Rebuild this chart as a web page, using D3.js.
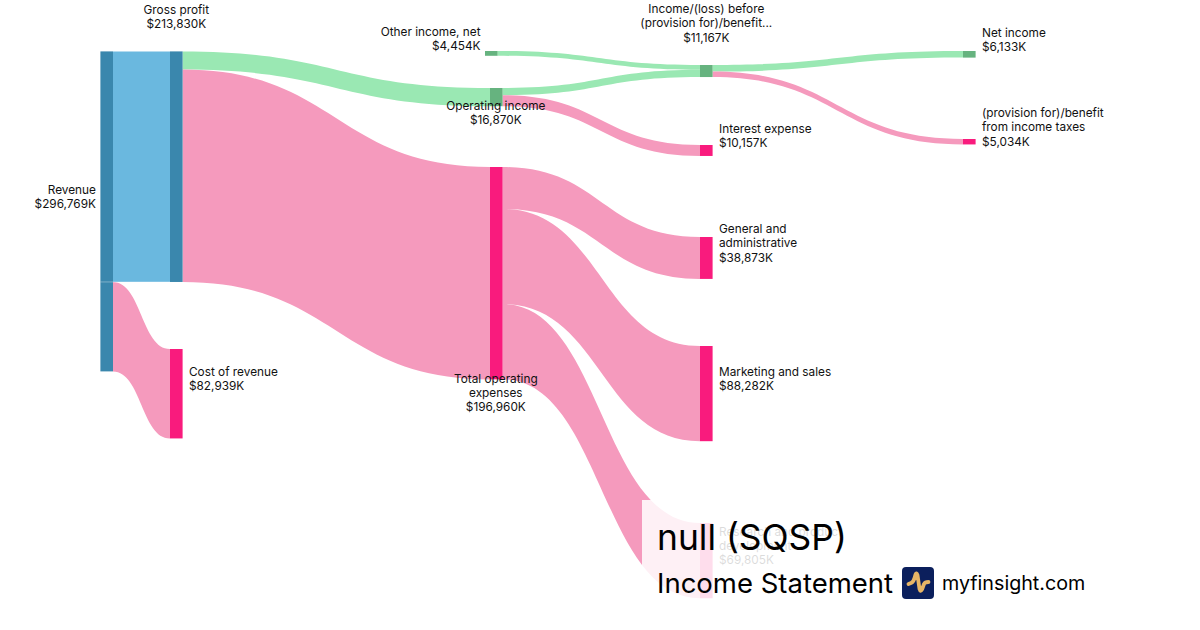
<!DOCTYPE html>
<html>
<head>
<meta charset="utf-8">
<script src="https://cdn.jsdelivr.net/npm/d3@7"></script>
<style>
  html, body { margin: 0; padding: 0; background: #fff; }
  text { font-family: Inter, sans-serif; fill: #111; }
</style>
</head>
<body>
<div id="chart"></div>
<script>
// values in $K
const nodeNames = ['Revenue', 'Gross profit', 'Cost of revenue', 'Other income, net', 'Operating income',
  'Total operating expenses', 'Income before', 'Interest expense', 'General and administrative',
  'Marketing and sales', 'Research and development', 'Net income', 'Provision'];
const nodeValues = [296769, 213830, 82939, 4454, 16870, 196960, 11167, 10157, 38873, 88282, 69805, 6133, 5034];
const nodeKinds = ['rev', 'rev', 'cost', 'gain', 'gain', 'cost', 'gain', 'cost', 'cost', 'cost', 'cost', 'gain', 'cost'];
const nodeLabels = [
  ['Revenue'], ['Gross profit'], ['Cost of revenue'], ['Other income, net'], ['Operating income'],
  ['Total operating', 'expenses'], ['Income/(loss) before', '(provision for)/benefit...'], ['Interest expense'],
  ['General and', 'administrative'], ['Marketing and sales'], ['Research and product', 'development'],
  ['Net income'], ['(provision for)/benefit', 'from income taxes']
];

const linkSources = [0, 0, 1, 1, 3, 4, 4, 5, 5, 5, 6, 6];
const linkTargets = [1, 2, 4, 5, 6, 6, 7, 8, 9, 10, 11, 12];
const linkValues = [213830, 82939, 16870, 196960, 4454, 6713, 10157, 38873, 88282, 69805, 6133, 5034];

// layout of the nodes, in page pixels
const nodeLeft = [100.4, 170, 170, 485, 490, 490, 700, 700, 700, 700, 700, 963, 963];
const nodeTop = [51.4, 51.4, 349, 51, 88, 167, 65, 145, 237, 346, 523, 51, 139];
const labelSide = ['left', 'top', 'right', 'left', 'bottom', 'bottom', 'top', 'right', 'right', 'right', 'right', 'right', 'right'];

const width = 1200, height = 630, nodeWidth = 12.6;
const colors = {
  rev: { node: '#3a87ad', link: '#6ab8df' },
  cost: { node: '#f91b7d', link: '#f59abd' },
  gain: { node: '#66b37f', link: '#9ae8b3' }
};

const fmt = d => '$' + d3.format(',')(d) + 'K';
const size = d3.scaleLinear().domain([0, 296769]).range([0, 320]);

const svg = d3.select('#chart').append('svg')
  .attr('width', width)
  .attr('height', height);

const nodes = nodeNames.map((name, i) => ({
  name, value: nodeValues[i], kind: nodeKinds[i], label: nodeLabels[i], side: labelSide[i],
  x: nodeLeft[i], y: nodeTop[i], h: size(nodeValues[i]), outY: nodeTop[i], inY: nodeTop[i]
}));

const links = linkValues.map((value, i) => {
  const s = nodes[linkSources[i]], t = nodes[linkTargets[i]], w = size(value);
  const l = { s, t, w, y0: s.outY, y1: t.inY };
  s.outY += w;
  t.inY += w;
  return l;
});

// ribbon with vertical ends, same bezier on top and bottom edge
function ribbon(l) {
  const x0 = l.s.x + nodeWidth, x1 = l.t.x, mx = (x0 + x1) / 2;
  const p = d3.path();
  p.moveTo(x0, l.y0);
  p.bezierCurveTo(mx, l.y0, mx, l.y1, x1, l.y1);
  p.lineTo(x1, l.y1 + l.w);
  p.bezierCurveTo(mx, l.y1 + l.w, mx, l.y0 + l.w, x0, l.y0 + l.w);
  p.closePath();
  return p.toString();
}

svg.append('g').selectAll('path')
  .data(links)
  .join('path')
  .attr('d', ribbon)
  .attr('fill', d => colors[d.t.kind === 'cost' ? 'cost' : (d.s.kind === 'rev' && d.t.kind === 'rev' ? 'rev' : 'gain')].link);

svg.append('g').selectAll('rect')
  .data(nodes)
  .join('rect')
  .attr('x', d => d.x)
  .attr('y', d => d.y)
  .attr('width', nodeWidth)
  .attr('height', d => d.h)
  .attr('fill', d => colors[d.kind].node);

// faint seam where the revenue node splits into its two flows
svg.append('line')
  .attr('x1', nodes[0].x)
  .attr('x2', nodes[1].x)
  .attr('y1', links[0].y0 + links[0].w)
  .attr('y2', links[0].y0 + links[0].w)
  .attr('stroke', '#fff')
  .attr('stroke-opacity', 0.35);

// labels
const lineH = 14.3;
const label = svg.append('g').attr('font-size', 11.8).selectAll('text')
  .data(nodes)
  .join('text')
  .attr('text-anchor', d => d.side === 'left' ? 'end' : (d.side === 'right' ? 'start' : 'middle'));

label.each(function (d) {
  const lines = d.label.concat(fmt(d.value));
  const n = lines.length;
  let x, y;
  if (d.side === 'left') { x = d.x - 4.5; y = d.y + d.h / 2 - (n - 1) * lineH / 2 - 10.5; }
  else if (d.side === 'right') { x = d.x + nodeWidth + 6.4; y = d.y + d.h / 2 - (n - 1) * lineH / 2 - 10.5; }
  else if (d.side === 'top') { x = d.x + nodeWidth / 2; y = d.y - 23.5 - (n - 1) * lineH; }
  else { x = d.x + nodeWidth / 2 - 0.5; y = d.y + d.h + 3.5; }
  d3.select(this).selectAll('tspan')
    .data(lines)
    .join('tspan')
    .attr('x', x)
    .attr('y', (t, i) => y + i * lineH)
    .text(t => t);
});

// watermark block over the chart
const mark = svg.append('g');
mark.append('rect')
  .attr('x', 642).attr('y', 500)
  .attr('width', 450).attr('height', 110)
  .attr('fill', '#fff').attr('fill-opacity', 0.85);
mark.append('text').attr('x', 657).attr('y', 550).attr('font-size', 35.4).style('fill', '#000').text('null (SQSP)');
mark.append('text').attr('x', 657).attr('y', 593).attr('font-size', 27.5).style('fill', '#000').text('Income Statement');
mark.append('rect').attr('x', 902).attr('y', 567).attr('width', 32).attr('height', 32).attr('rx', 4).attr('fill', '#0b1f5c');
mark.append('path')
  .attr('d', 'M908.500 584 L911 583 Q913.500 582 914.500 578 L915.500 574.500 Q916.500 572 917.500 575 L919.500 589 Q920.500 592.500 922 589.500 L924 584 Q925 582 928.500 582')
  .attr('fill', 'none').attr('stroke', '#e7b566').attr('stroke-width', 3.8).attr('stroke-linecap', 'round').attr('stroke-linejoin', 'round');
mark.append('text').attr('x', 942).attr('y', 590).attr('font-size', 19.7).style('fill', '#000').text('myfinsight.com');
</script>
</body>
</html>
